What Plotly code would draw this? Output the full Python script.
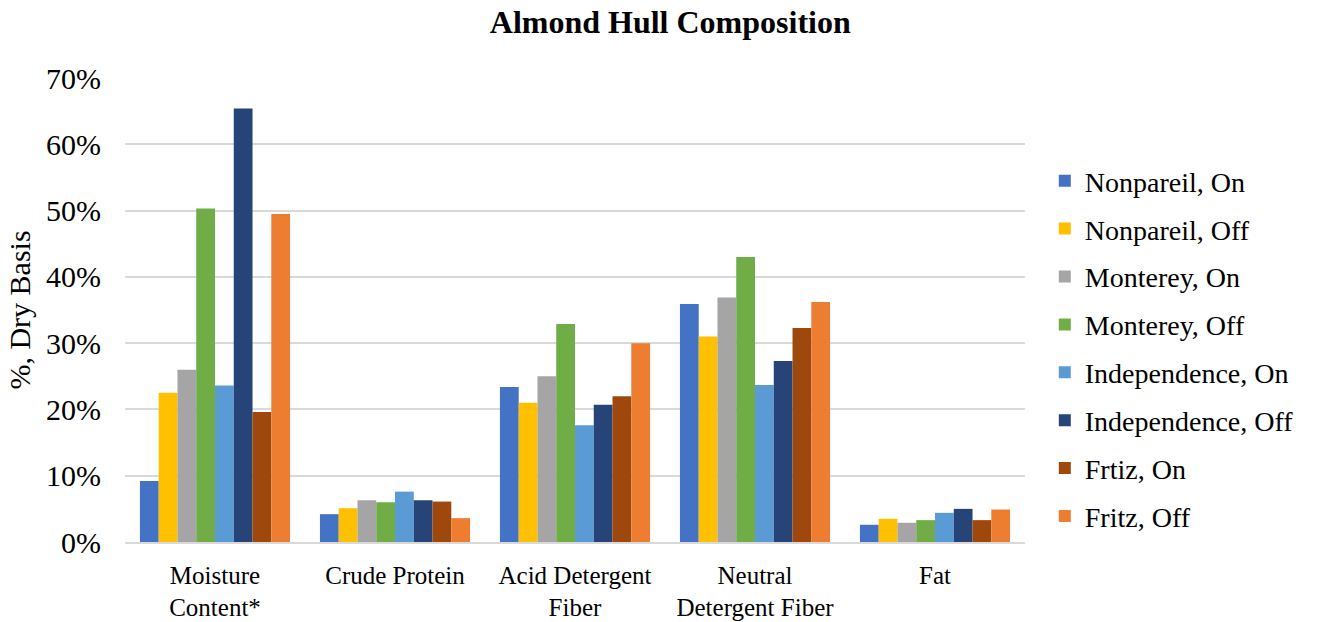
import plotly.graph_objects as go

categories = [
    "Moisture<br>Content*",
    "Crude Protein",
    "Acid Detergent<br>Fiber",
    "Neutral<br>Detergent Fiber",
    "Fat",
]

series_names = [
    "Nonpareil, On",
    "Nonpareil, Off",
    "Monterey, On",
    "Monterey, Off",
    "Independence, On",
    "Independence, Off",
    "Frtiz, On",
    "Fritz, Off",
]

# Composition values (fraction, dry basis) per category, one list per series
nonpareil_on = [0.092, 0.042, 0.234, 0.359, 0.026]
nonpareil_off = [0.225, 0.051, 0.210, 0.310, 0.035]
monterey_on = [0.260, 0.063, 0.250, 0.369, 0.029]
monterey_off = [0.503, 0.060, 0.329, 0.430, 0.033]
independence_on = [0.236, 0.076, 0.176, 0.237, 0.044]
independence_off = [0.654, 0.063, 0.207, 0.273, 0.050]
fritz_on = [0.196, 0.061, 0.220, 0.323, 0.033]
fritz_off = [0.495, 0.036, 0.300, 0.362, 0.049]

series_values = [
    nonpareil_on, nonpareil_off, monterey_on, monterey_off,
    independence_on, independence_off, fritz_on, fritz_off,
]

colors = ["#4472C4", "#FFC000", "#A5A5A5", "#70AD47",
          "#5B9BD5", "#264478", "#9E480E", "#ED7D31"]

font_family = "Liberation Serif, Times New Roman, serif"

fig = go.Figure()
for i, (name, vals) in enumerate(zip(series_names, series_values)):
    fig.add_trace(go.Bar(
        x=categories,
        y=vals,
        name=name,
        legendgroup=f"g{i}",
        marker=dict(color=colors[i], line=dict(width=0)),
    ))

fig.update_layout(
    width=1322,
    height=622,
    margin=dict(l=125, r=297, t=78, b=80),
    paper_bgcolor="white",
    plot_bgcolor="white",
    barmode="group",
    bargap=0.166,
    bargroupgap=0,
    font=dict(family=font_family, size=26, color="black"),
    title=dict(
        text="<b>Almond Hull Composition</b>",
        x=0.507, xref="container", xanchor="center",
        y=0.965, yref="container", yanchor="middle",
        font=dict(family=font_family, size=32, color="black"),
    ),
    yaxis=dict(
        range=[0, 0.7],
        dtick=0.1,
        tickformat=".0%",
        showgrid=True,
        gridcolor="#D9D9D9",
        gridwidth=1.6,
        zeroline=False,
        showline=False,
        ticks="",
        automargin=False,
        ticklabelstandoff=23,
        title=dict(text="%, Dry Basis", standoff=6,
                   font=dict(family=font_family, size=30)),
        tickfont=dict(family=font_family, size=30),
    ),
    xaxis=dict(
        showline=True,
        linecolor="#D9D9D9",
        linewidth=1.6,
        ticks="",
        automargin=False,
        ticklabelstandoff=10,
        tickfont=dict(family=font_family, size=25),
    ),
    legend=dict(
        x=1.022, xanchor="left",
        y=0.417, yanchor="middle",
        font=dict(family=font_family, size=28),
        tracegroupgap=8.5,
        itemwidth=30,
    ),
)

fig.write_html("out.html")
